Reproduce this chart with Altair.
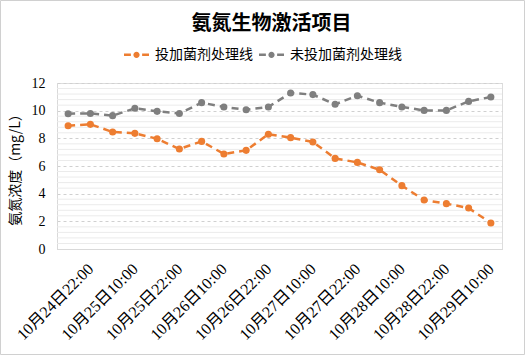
import altair as alt
import pandas as pd
import numpy as np

times = [
    "10月24日16:00", "10月24日22:00", "10月25日04:00", "10月25日10:00",
    "10月25日16:00", "10月25日22:00", "10月26日04:00", "10月26日10:00",
    "10月26日16:00", "10月26日22:00", "10月27日04:00", "10月27日10:00",
    "10月27日16:00", "10月27日22:00", "10月28日04:00", "10月28日10:00",
    "10月28日16:00", "10月28日22:00", "10月29日04:00", "10月29日10:00",
]
treated = [8.91, 9.01, 8.46, 8.36, 7.97, 7.23, 7.78, 6.87, 7.13, 8.30,
           8.05, 7.74, 6.55, 6.26, 5.73, 4.58, 3.54, 3.28, 2.96, 1.88]
untreated = [9.78, 9.80, 9.64, 10.17, 9.95, 9.80, 10.58, 10.27, 10.07, 10.27,
             11.28, 11.16, 10.46, 11.08, 10.58, 10.27, 10.02, 10.02, 10.67, 10.99]
series_names = ["投加菌剂处理线", "未投加菌剂处理线"]
colors = ["#ED7D31", "#7F7F7F"]

rows = []
for i, t in enumerate(times):
    rows.append({"time": t, "series": series_names[0], "value": treated[i]})
    rows.append({"time": t, "series": series_names[1], "value": untreated[i]})
df = pd.DataFrame(rows)

minor = [round(v, 1) for v in np.arange(0.4, 12.0, 0.4) if abs(v / 2 - round(v / 2)) > 1e-6]
df_minor = pd.DataFrame({"value": minor})

SERIF = "Liberation Serif, Noto Sans CJK SC"
SANS = "Noto Sans CJK SC"

label_expr = "indexof(" + str([times[i] for i in range(1, 20, 2)]).replace("'", '"') + ", datum.value) >= 0 ? datum.value : ''"

x_axis = alt.Axis(title=None, labelAngle=-45, labelAlign="right", labelBaseline="middle",
                  labelFont=SERIF, labelFontSize=16, labelColor="#000000",
                  ticks=False, domainColor="#d9d9d9", labelPadding=17,
                  labelExpr=label_expr, labelOverlap=False, grid=False)
y_scale = alt.Scale(domain=[0, 12], nice=False)
y_axis = alt.Axis(title="氨氮浓度（mg/L）", values=[0, 2, 4, 6, 8, 10, 12],
                  titleFont=SANS, titleFontSize=14, titleFontWeight="normal",
                  titleColor="#000000", titlePadding=9,
                  labelFont=SERIF, labelFontSize=14, labelColor="#000000",
                  ticks=False, domain=True, domainColor="#d9d9d9",
                  grid=True, gridColor="#d0d0d0", gridDash=[3, 3], labelPadding=12)

color_scale = alt.Scale(domain=series_names, range=colors)
sym_path = ("M-1,-0.1L-0.45,-0.1L-0.45,0.1L-1,0.1Z "
            "M0.45,-0.1L1,-0.1L1,0.1L0.45,0.1Z "
            "M-0.25,0A0.25,0.25,0,1,0,0.25,0A0.25,0.25,0,1,0,-0.25,0Z")
legend = alt.Legend(title=None, orient="none", direction="horizontal",
                    legendX=67, legendY=-41, symbolType=sym_path,
                    symbolSize=625, symbolStrokeWidth=0,
                    labelFont=SANS, labelFontSize=14, labelColor="#000000",
                    labelOffset=6, columnPadding=6, labelLimit=300)

frame = alt.Chart(pd.DataFrame({"k": [0]})).mark_rect(
    fill=None, stroke="#d0d0d0", strokeWidth=1, clip=False
).encode(
    x=alt.value(-56.5), x2=alt.value(467.5), y=alt.value(-82.5), y2=alt.value(271.5)
)

minor_rules = alt.Chart(df_minor).mark_rule(color="#ebebeb", strokeWidth=1).encode(
    y=alt.Y("value:Q", scale=y_scale, axis=y_axis)
)

lines = alt.Chart(df).mark_line(strokeWidth=2.5, strokeDash=[7, 5]).encode(
    x=alt.X("time:N", sort=times, scale=alt.Scale(type="point", padding=0.5), axis=x_axis),
    y=alt.Y("value:Q", scale=y_scale, axis=y_axis),
    color=alt.Color("series:N", scale=color_scale, legend=legend),
    detail="series:N",
)

points = alt.Chart(df).mark_point(filled=True, size=50, opacity=1).encode(
    x=alt.X("time:N", sort=times, scale=alt.Scale(type="point", padding=0.5), axis=x_axis),
    y=alt.Y("value:Q", scale=y_scale, axis=y_axis),
    color=alt.Color("series:N", scale=color_scale, legend=legend),
)

chart = alt.layer(minor_rules, lines, points, frame).properties(
    width=445, height=166,
    padding={"left": 57, "top": 83, "right": 23, "bottom": 106},
    autosize=alt.AutoSizeParams(type="none"),
    title=alt.TitleParams("氨氮生物激活项目", font="Liberation Serif, Noto Sans CJK SC",
                          fontSize=20, fontWeight="bold", color="#000000",
                          anchor="middle", offset=-34, dx=-8),
).configure_view(stroke=None).configure(background="white")

chart.save("out.html", embed_options={"renderer": "svg", "actions": False})
